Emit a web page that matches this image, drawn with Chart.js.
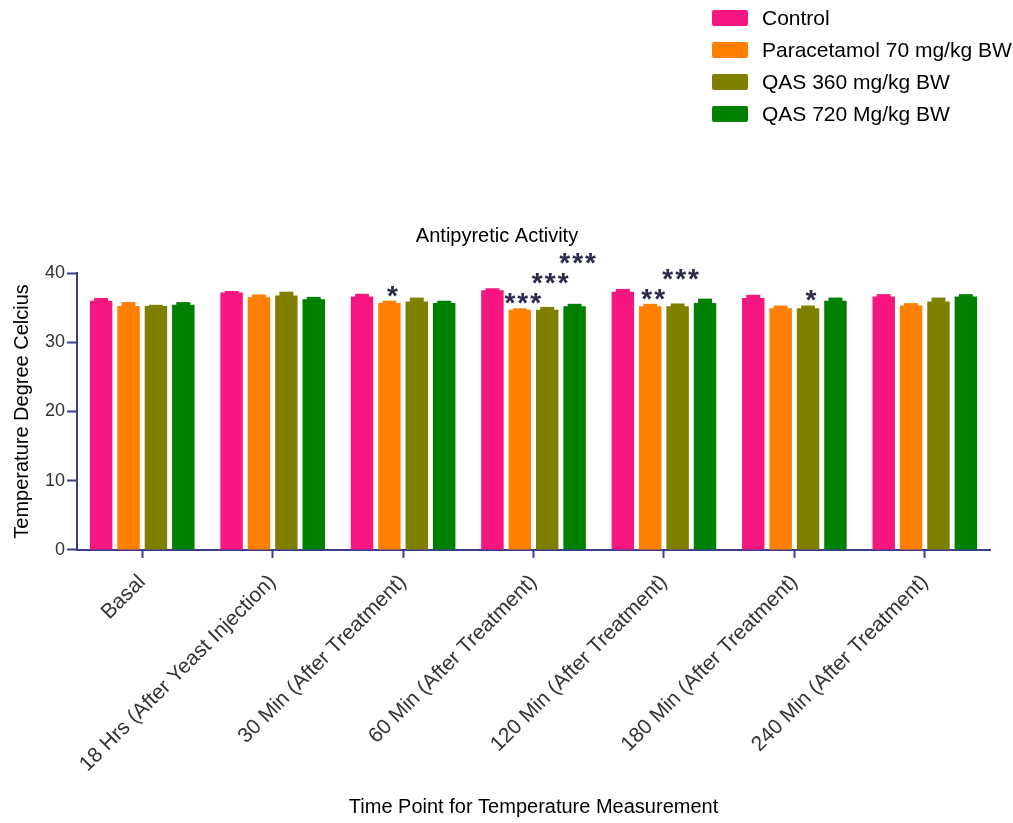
<!DOCTYPE html>
<html>
<head>
<meta charset="utf-8">
<title>Antipyretic Activity</title>
<script src="https://cdn.jsdelivr.net/npm/chart.js@4.4.1/dist/chart.umd.min.js"></script>
<style>
    html, body { margin: 0; padding: 0; background: #fff; }
    #wrap { position: relative; width: 1013px; height: 823px; overflow: hidden; }
    #chart { position: absolute; left: 0; top: 0; }
    #legend { position: absolute; left: 712px; top: 2px; font-family: "Liberation Sans", Arial, sans-serif; font-size: 21px; color: #000; white-space: nowrap; }
    #legend .row { height: 32px; display: flex; align-items: center; }
    #legend .box { width: 36px; height: 16px; border-radius: 2px; margin-right: 14px; }
</style>
</head>
<body>
<div id="wrap">
    <canvas id="chart" width="1013" height="823"></canvas>
    <div id="legend"></div>
</div>
<script>
// categories on the x axis
const timePoints = [
    "Basal",
    "18 Hrs (After Yeast Injection)",
    "30 Min (After Treatment)",
    "60 Min (After Treatment)",
    "120 Min (After Treatment)",
    "180 Min (After Treatment)",
    "240 Min (After Treatment)"
];

const groupNames = ["Control", "Paracetamol 70 mg/kg BW", "QAS 360 mg/kg BW", "QAS 720 Mg/kg BW"];
const groupColors = ["#f5177f", "#ff8000", "#808000", "#008000"];

// mean temperature (deg C) per group
const controlMean = [36.0, 37.2, 36.6, 37.5, 37.3, 36.4, 36.6];
const paracetamolMean = [35.25, 36.5, 35.65, 34.7, 35.2, 34.9, 35.3];
const qas360Mean = [35.25, 36.75, 35.9, 34.7, 35.2, 34.9, 35.9];
const qas720Mean = [35.4, 36.2, 35.65, 35.2, 35.65, 36.0, 36.6];

// SEM (error bars)
const controlSem = [0.4, 0.2, 0.4, 0.3, 0.4, 0.45, 0.35];
const paracetamolSem = [0.55, 0.4, 0.35, 0.2, 0.35, 0.4, 0.35];
const qas360Sem = [0.15, 0.55, 0.55, 0.4, 0.4, 0.4, 0.55];
const qas720Sem = [0.4, 0.35, 0.35, 0.35, 0.65, 0.45, 0.35];

// significance marks
const controlSig = ["", "", "", "", "", "", ""];
const paracetamolSig = ["", "", "*", "***", "**", "", ""];
const qas360Sig = ["", "", "", "***", "***", "*", ""];
const qas720Sig = ["", "", "", "***", "", "", ""];

const yTicks = [0, 10, 20, 30, 40];

const means = [controlMean, paracetamolMean, qas360Mean, qas720Mean];
const sems = [controlSem, paracetamolSem, qas360Sem, qas720Sem];
const sigs = [controlSig, paracetamolSig, qas360Sig, qas720Sig];

const axisColor = "#3b3d8a";
Chart.defaults.font.family = '"Liberation Sans", Arial, sans-serif';

// html legend
const legendEl = document.getElementById("legend");
groupNames.forEach((name, i) => {
    const row = document.createElement("div");
    row.className = "row";
    const box = document.createElement("span");
    box.className = "box";
    box.style.background = groupColors[i];
    const label = document.createElement("span");
    label.textContent = name;
    row.appendChild(box);
    row.appendChild(label);
    legendEl.appendChild(row);
});

// error caps and asterisks, placed from the scales
const marksPlugin = {
    id: "marks",
    afterDatasetsDraw(chart) {
        const ctx = chart.ctx;
        const y = chart.scales.y;
        ctx.save();
        chart.data.datasets.forEach((ds, d) => {
            const meta = chart.getDatasetMeta(d);
            meta.data.forEach((bar, i) => {
                const top = y.getPixelForValue(means[d][i] + sems[d][i]);
                const w = bar.width * 0.62;
                ctx.fillStyle = groupColors[d];
                ctx.fillRect(bar.x - w / 2, top, w, bar.y - top + 1);
            });
        });

        const size = 28;
        ctx.font = "bold " + size + 'px "Liberation Sans", Arial, sans-serif';
        ctx.fillStyle = "#2b2b4d";
        ctx.textAlign = "center";
        ctx.letterSpacing = "2px";
        timePoints.forEach((t, i) => {
            let prevY = null;
            let prevD = -2;
            sigs.forEach((s, d) => {
                if (!s[i]) return;
                const bar = chart.getDatasetMeta(d).data[i];
                let cy = y.getPixelForValue(means[d][i] + sems[d][i]) - 12;
                if (prevY !== null && prevD === d - 1) cy = Math.min(cy, prevY - 20);
                ctx.fillText(s[i], bar.x + 4, cy + size * 0.57);
                prevY = cy;
                prevD = d;
            });
        });
        ctx.restore();
    }
};

const datasets = groupNames.map((name, i) => ({
    label: name,
    data: means[i],
    backgroundColor: groupColors[i],
    borderWidth: 0,
    categoryPercentage: 0.84,
    barPercentage: 0.82
}));

new Chart(document.getElementById("chart"), {
    type: "bar",
    data: { labels: timePoints, datasets: datasets },
    options: {
        responsive: false,
        animation: false,
        layout: { padding: { top: 224, left: 4, right: 23, bottom: 2 } },
        plugins: {
            legend: { display: false },
            tooltip: { enabled: false },
            title: {
                display: true,
                text: "Antipyretic Activity",
                color: "#000",
                font: { size: 20, weight: "normal" },
                padding: { top: 0, bottom: 25 }
            }
        },
        scales: {
            x: {
                grid: {
                    offset: false,
                    drawOnChartArea: false,
                    tickLength: 8,
                    tickColor: axisColor,
                    tickWidth: 2
                },
                border: { color: axisColor, width: 2 },
                ticks: {
                    color: "#333",
                    font: { size: 21 },
                    minRotation: 45,
                    maxRotation: 45,
                    padding: 12
                },
                title: {
                    display: true,
                    text: "Time Point for Temperature Measurement",
                    color: "#000",
                    font: { size: 20 },
                    padding: { top: 6, bottom: 2 }
                }
            },
            y: {
                min: 0,
                max: 40,
                afterBuildTicks(scale) {
                    scale.ticks = yTicks.map((v) => ({ value: v }));
                },
                grid: {
                    drawOnChartArea: false,
                    tickLength: 10,
                    tickColor: axisColor,
                    tickWidth: 2
                },
                border: { color: axisColor, width: 2 },
                ticks: { color: "#333", font: { size: 18 }, padding: 2 },
                title: {
                    display: true,
                    text: "Temperature Degree Celcius",
                    color: "#000",
                    font: { size: 20 },
                    padding: { top: 6, bottom: 9 }
                }
            }
        }
    },
    plugins: [marksPlugin]
});
</script>
</body>
</html>
